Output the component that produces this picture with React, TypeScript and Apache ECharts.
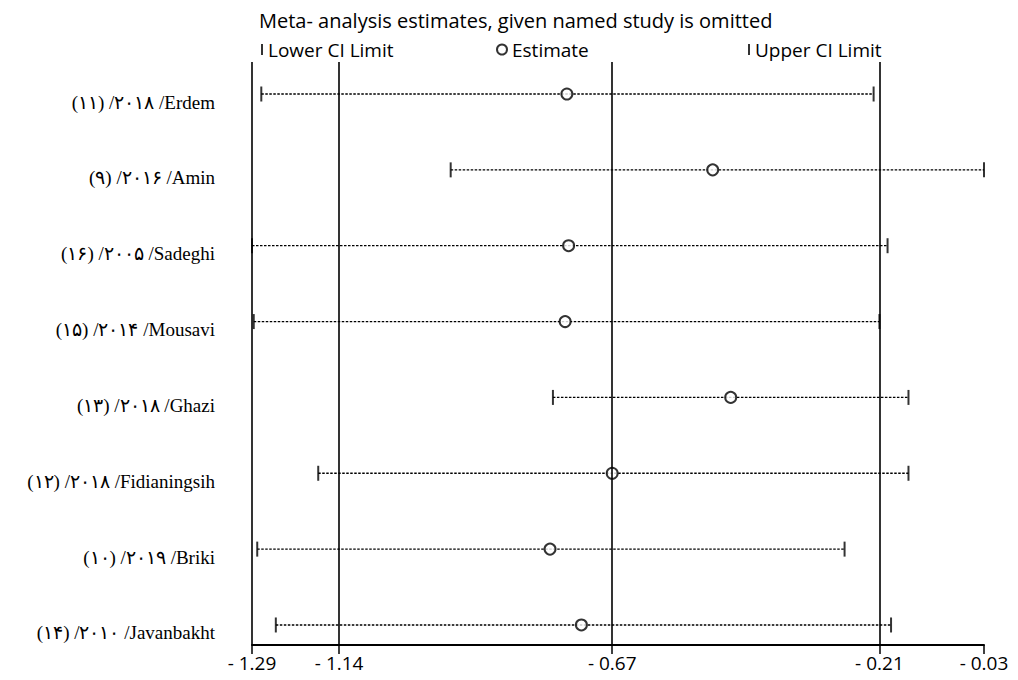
import React, { useEffect, useRef } from "react";
import * as echarts from "echarts";

const studies = [
  "(۱۱) /۲۰۱۸ /Erdem",
  "(۹) /۲۰۱۶ /Amin",
  "(۱۶) /۲۰۰۵ /Sadeghi",
  "(۱۵) /۲۰۱۴ /Mousavi",
  "(۱۳) /۲۰۱۸ /Ghazi",
  "(۱۲) /۲۰۱۸ /Fidianingsih",
  "(۱۰) /۲۰۱۹ /Briki",
  "(۱۴) /۲۰۱۰ /Javanbakht",
];
const lowerCI = [-1.274, -0.948, -1.29, -1.287, -0.772, -1.176, -1.281, -1.249];
const estimate = [-0.748, -0.497, -0.745, -0.751, -0.466, -0.67, -0.777, -0.723];
const upperCI = [-0.22, -0.03, -0.196, -0.21, -0.16, -0.16, -0.27, -0.19];
const rowPositions = [1, 2, 3, 4, 5, 6, 7, 8];
const xTickValues = [-1.29, -1.14, -0.67, -0.21, -0.03];
const referenceLines = [-1.29, -1.14, -0.67, -0.21];

const titleText = "Meta- analysis estimates, given named study is omitted";
const sans = "'Open Sans', 'Noto Sans', sans-serif";
const serif = "'Liberation Serif', 'Times New Roman', 'DejaVu Serif', serif";

export default function App() {
  const ref = useRef<HTMLDivElement>(null);
  useEffect(() => {
    document.body.style.margin = "0";
    const chart = echarts.init(ref.current!, null, { renderer: "svg" });
    const lowerData = rowPositions.map((r, i) => [lowerCI[i], r]);
    const upperData = rowPositions.map((r, i) => [upperCI[i], r]);
    const estData = rowPositions.map((r, i) => [estimate[i], r]);
    const rangeData = rowPositions.map((r, i) => [lowerCI[i], upperCI[i], r]);
    const legendText = { fontFamily: sans, fontSize: 19, color: "#000" };
    chart.setOption({
      animation: false,
      backgroundColor: "#fff",
      title: {
        text: titleText,
        left: 254,
        top: 5,
        textStyle: { fontFamily: sans, fontSize: 20, fontWeight: "normal", color: "#000" },
      },
      legend: [
        {
          data: [{ name: "Lower CI Limit", icon: "rect" }],
          left: 256,
          top: 35,
          itemWidth: 2,
          itemHeight: 11,
          textStyle: legendText,
          selectedMode: false,
        },
        {
          data: [{ name: "Estimate", icon: "emptyCircle" }],
          left: 491,
          top: 35,
          itemWidth: 10,
          itemHeight: 10,
          textStyle: legendText,
          selectedMode: false,
        },
        {
          data: [{ name: "Upper CI Limit", icon: "rect" }],
          left: 743,
          top: 35,
          itemWidth: 2,
          itemHeight: 11,
          textStyle: legendText,
          selectedMode: false,
        },
      ],
      grid: { left: 252, right: 34, top: 62, bottom: 35, containLabel: false },
      xAxis: {
        type: "value",
        min: -1.29,
        max: -0.03,
        axisLine: { show: true, lineStyle: { color: "#000", width: 2 } },
        axisTick: {
          show: true,
          customValues: xTickValues,
          length: 9,
          lineStyle: { color: "#000", width: 1.5 },
        },
        axisLabel: {
          customValues: xTickValues,
          formatter: (v: number) => "- " + Math.abs(v).toFixed(2),
          fontFamily: sans,
          fontSize: 19,
          color: "#000",
          margin: 8,
        },
        splitLine: { show: false },
      },
      yAxis: {
        type: "value",
        inverse: true,
        min: 0.578,
        max: 8.264,
        axisLine: { show: false },
        axisTick: { show: false },
        splitLine: { show: false },
        axisLabel: {
          customValues: rowPositions,
          formatter: (v: number) => studies[Math.round(v) - 1] ?? "",
          fontFamily: serif,
          fontSize: 19,
          color: "#000",
          margin: 37,
          verticalAlign: "top",
          lineHeight: 16,
        },
      },
      series: [
        {
          type: "custom",
          name: "range",
          data: rangeData,
          encode: { x: [0, 1], y: 2 },
          z: 2,
          renderItem: (params: any, api: any) => {
            const p1 = api.coord([api.value(0), api.value(2)]);
            const p2 = api.coord([api.value(1), api.value(2)]);
            return {
              type: "line",
              shape: { x1: p1[0], y1: p1[1], x2: p2[0], y2: p2[1] },
              style: { stroke: "#000", lineWidth: 1.3, lineDash: [2.5, 1.5] },
            };
          },
          markLine: {
            silent: true,
            symbol: ["none", "none"],
            label: { show: false },
            lineStyle: { color: "#000", width: 1.6, type: "solid" },
            data: referenceLines.map((v) => ({ xAxis: v })),
          },
        },
        {
          type: "scatter",
          name: "Lower CI Limit",
          data: lowerData,
          symbol: "rect",
          symbolSize: [2, 15],
          itemStyle: { color: "#000" },
          z: 3,
          clip: false,
        },
        {
          type: "scatter",
          name: "Upper CI Limit",
          data: upperData,
          symbol: "rect",
          symbolSize: [2, 15],
          itemStyle: { color: "#000" },
          z: 3,
          clip: false,
        },
        {
          type: "scatter",
          name: "Estimate",
          data: estData,
          symbol: "emptyCircle",
          symbolSize: 11,
          itemStyle: { color: "#000", borderColor: "#000", borderWidth: 1.8 },
          z: 4,
          clip: false,
        },
      ],
    });
    return () => chart.dispose();
  }, []);
  return <div ref={ref} style={{ width: 1018, height: 680 }} />;
}
